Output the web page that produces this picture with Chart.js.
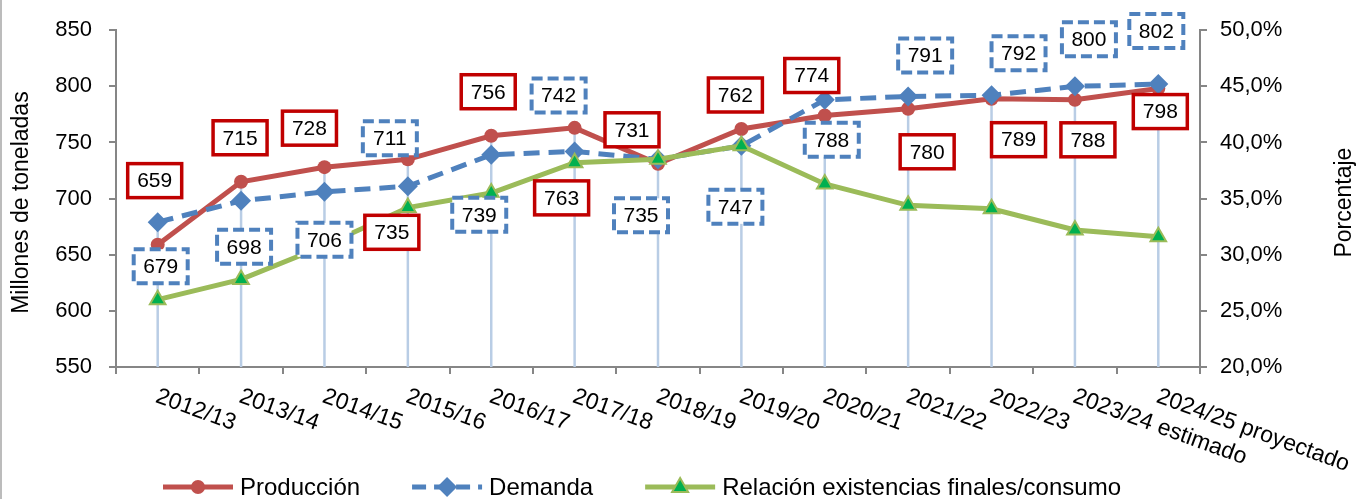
<!DOCTYPE html>
<html>
<head>
<meta charset="utf-8">
<script src="https://cdn.jsdelivr.net/npm/chart.js@4.4.1/dist/chart.umd.min.js"></script>
<style>
  html, body { margin: 0; padding: 0; background: #fff; }
  canvas { display: block; }
</style>
</head>
<body>
<canvas id="myChart" width="1362" height="499"></canvas>
<script>
const categories = ['2012/13', '2013/14', '2014/15', '2015/16', '2016/17', '2017/18', '2018/19',
  '2019/20', '2020/21', '2021/22', '2022/23', '2023/24 estimado', '2024/25 proyectado'];
const produccion = [659, 715, 728, 735, 756, 763, 731, 762, 774, 780, 789, 788, 798];
const demanda = [679, 698, 706, 711, 739, 742, 735, 747, 788, 791, 792, 800, 802];
const relacion = [26.0, 27.8, 30.8, 34.2, 35.5, 38.2, 38.5, 39.7, 36.3, 34.4, 34.1, 32.2, 31.6];

// where each value box sits relative to its point (px)
const prodLabelPos = [[-3, -64], [-1, -44], [-15, -39], [-16, 73], [-3, -44], [-13, 70], [-26, -34],
  [-6, -34], [-13, -40], [19, 43], [27, 41], [13, 40], [2, 23]];
const demLabelPos = [[3, 44], [3, 46], [0, 48], [-18, -48], [-12, 60], [-16, -56], [-17, 56],
  [-6, 61], [7, 40], [17, -41], [27, -42], [14, -47], [-2, -53]];

const FONT = '"Liberation Sans", Arial, sans-serif';
const RED = '#C0504D', BLUE = '#4F81BD', GREEN = '#9BBB59', GREEN_FILL = '#00B050';

const dropLines = {
  id: 'dropLines',
  beforeDatasetsDraw(chart) {
    const { ctx, chartArea } = chart;
    const x = chart.scales.x, y = chart.scales.y;
    ctx.save();
    ctx.strokeStyle = '#B9CDE5';
    ctx.lineWidth = 2.5;
    categories.forEach((c, i) => {
      const px = x.getPixelForValue(i);
      const top = Math.min(y.getPixelForValue(produccion[i]), y.getPixelForValue(demanda[i]));
      ctx.beginPath();
      ctx.moveTo(px, top);
      ctx.lineTo(px, chartArea.bottom);
      ctx.stroke();
    });
    ctx.restore();
  }
};

function valueBox(ctx, cx, cy, text, color, dashed) {
  const w = 54, h = 34;
  ctx.save();
  ctx.fillStyle = '#fff';
  ctx.fillRect(cx - w / 2, cy - h / 2, w, h);
  ctx.strokeStyle = color;
  ctx.lineWidth = dashed ? 4 : 3.5;
  if (dashed) ctx.setLineDash([11, 5]);
  ctx.strokeRect(cx - w / 2, cy - h / 2, w, h);
  ctx.setLineDash([]);
  ctx.fillStyle = '#000';
  ctx.font = '21px ' + FONT;
  ctx.textAlign = 'center';
  ctx.textBaseline = 'middle';
  ctx.fillText(text, cx, cy + 1);
  ctx.restore();
}

const valueLabels = {
  id: 'valueLabels',
  afterDatasetsDraw(chart) {
    const { ctx } = chart;
    const x = chart.scales.x, y = chart.scales.y;
    produccion.forEach((v, i) => {
      const px = x.getPixelForValue(i), py = y.getPixelForValue(v);
      valueBox(ctx, px + prodLabelPos[i][0], py + prodLabelPos[i][1], String(v), '#C00000', false);
    });
    demanda.forEach((v, i) => {
      const px = x.getPixelForValue(i), py = y.getPixelForValue(v);
      valueBox(ctx, px + demLabelPos[i][0], py + demLabelPos[i][1], String(v), BLUE, true);
    });
  }
};

function marker(ctx, type, x, y) {
  ctx.save();
  if (type === 'circle') {
    ctx.fillStyle = RED;
    ctx.beginPath(); ctx.arc(x, y, 7, 0, Math.PI * 2); ctx.fill();
  } else if (type === 'diamond') {
    ctx.fillStyle = BLUE;
    ctx.beginPath();
    ctx.moveTo(x, y - 10); ctx.lineTo(x + 10, y); ctx.lineTo(x, y + 10); ctx.lineTo(x - 10, y);
    ctx.closePath(); ctx.fill();
  } else {
    ctx.fillStyle = GREEN_FILL; ctx.strokeStyle = GREEN; ctx.lineWidth = 2;
    ctx.beginPath();
    ctx.moveTo(x, y - 9); ctx.lineTo(x + 8, y + 5); ctx.lineTo(x - 8, y + 5);
    ctx.closePath(); ctx.fill(); ctx.stroke();
  }
  ctx.restore();
}

const decorations = {
  id: 'decorations',
  afterDraw(chart) {
    const { ctx, chartArea } = chart;
    const x = chart.scales.x;
    ctx.save();

    // outer frame, left edge
    ctx.strokeStyle = '#A6A6A6';
    ctx.lineWidth = 1.5;
    ctx.beginPath(); ctx.moveTo(1, 0); ctx.lineTo(1, 499); ctx.stroke();

    // slanted category labels
    ctx.fillStyle = '#000';
    ctx.font = '23px ' + FONT;
    ctx.textAlign = 'left';
    ctx.textBaseline = 'top';
    categories.forEach((c, i) => {
      const px = x.getPixelForValue(i);
      ctx.save();
      ctx.translate(px + 3, chartArea.bottom + 18);
      ctx.rotate(20 * Math.PI / 180);
      ctx.fillText(c, 0, 0);
      ctx.restore();
    });

    // axis titles
    const midY = (chartArea.top + chartArea.bottom) / 2 + 4;
    ctx.font = '23px ' + FONT;
    ctx.textAlign = 'center';
    ctx.textBaseline = 'middle';
    ctx.save();
    ctx.translate(22, midY);
    ctx.rotate(-Math.PI / 2);
    ctx.fillText('Millones de toneladas', 0, 0);
    ctx.restore();
    ctx.save();
    ctx.translate(1345, midY);
    ctx.rotate(-Math.PI / 2);
    ctx.fillText('Porcentaje', 0, 0);
    ctx.restore();

    // legend
    const items = [
      { text: 'Producción', color: RED, dash: [], mark: 'circle' },
      { text: 'Demanda', color: BLUE, dash: [14, 8], mark: 'diamond' },
      { text: 'Relación existencias finales/consumo', color: GREEN, dash: [], mark: 'triangle' }
    ];
    ctx.font = '24px ' + FONT;
    ctx.textAlign = 'left';
    let lx = 163;
    const ly = 487;
    items.forEach(it => {
      ctx.save();
      ctx.strokeStyle = it.color;
      ctx.lineWidth = 5;
      ctx.setLineDash(it.dash);
      ctx.beginPath(); ctx.moveTo(lx, ly); ctx.lineTo(lx + 70, ly); ctx.stroke();
      ctx.restore();
      marker(ctx, it.mark, lx + 35, ly);
      ctx.fillStyle = '#000';
      ctx.fillText(it.text, lx + 77, ly + 1);
      lx += 77 + ctx.measureText(it.text).width + 52;
    });
    ctx.restore();
  }
};

const ctx = document.getElementById('myChart').getContext('2d');
const axisColor = '#868686';

new Chart(ctx, {
  type: 'line',
  data: {
    labels: categories,
    datasets: [
      {
        label: 'Producción',
        data: produccion,
        yAxisID: 'y',
        borderColor: RED,
        backgroundColor: RED,
        borderWidth: 5,
        pointStyle: 'circle',
        pointRadius: 7,
        pointBorderWidth: 0,
        pointBackgroundColor: RED,
        tension: 0,
        order: 3,
      },
      {
        label: 'Demanda',
        data: demanda,
        yAxisID: 'y',
        borderColor: BLUE,
        backgroundColor: BLUE,
        borderWidth: 5,
        borderDash: [16, 9],
        pointStyle: 'rectRot',
        pointRadius: 10,
        pointBorderWidth: 0,
        pointBackgroundColor: BLUE,
        tension: 0,
        order: 2,
      },
      {
        label: 'Relación existencias finales/consumo',
        data: relacion,
        yAxisID: 'y1',
        borderColor: GREEN,
        backgroundColor: GREEN_FILL,
        borderWidth: 5,
        pointStyle: 'triangle',
        pointRadius: 9,
        pointBorderWidth: 2,
        pointBorderColor: GREEN,
        pointBackgroundColor: GREEN_FILL,
        tension: 0,
        order: 1,
      },
    ],
  },
  options: {
    responsive: false,
    animation: false,
    devicePixelRatio: 1,
    layout: { padding: { top: 26, left: 0, right: 0, bottom: 0 } },
    plugins: {
      legend: { display: false },
      tooltip: { enabled: false },
    },
    scales: {
      x: {
        offset: true,
        grid: { drawOnChartArea: false, tickLength: 7, color: axisColor, lineWidth: 2, offset: true },
        border: { color: axisColor, width: 2 },
        ticks: { display: false, autoSkip: false },
        afterFit: (s) => { s.height = 132; },
      },
      y: {
        position: 'left',
        min: 550,
        max: 850,
        grid: { drawOnChartArea: false, tickLength: 7, color: axisColor, lineWidth: 2 },
        border: { color: axisColor, width: 2 },
        ticks: {
          stepSize: 50,
          padding: 17,
          color: '#000',
          font: { family: FONT, size: 22 },
        },
        afterFit: (s) => { s.width = 116; },
      },
      y1: {
        position: 'right',
        min: 20,
        max: 50,
        grid: { drawOnChartArea: false, tickLength: 7, color: axisColor, lineWidth: 2 },
        border: { color: axisColor, width: 2 },
        ticks: {
          stepSize: 5,
          padding: 13,
          color: '#000',
          font: { family: FONT, size: 22 },
          callback: (v) => v.toFixed(1).replace('.', ',') + '%',
        },
        afterFit: (s) => { s.width = 162; },
      },
    },
  },
  plugins: [dropLines, valueLabels, decorations],
});
</script>
</body>
</html>
